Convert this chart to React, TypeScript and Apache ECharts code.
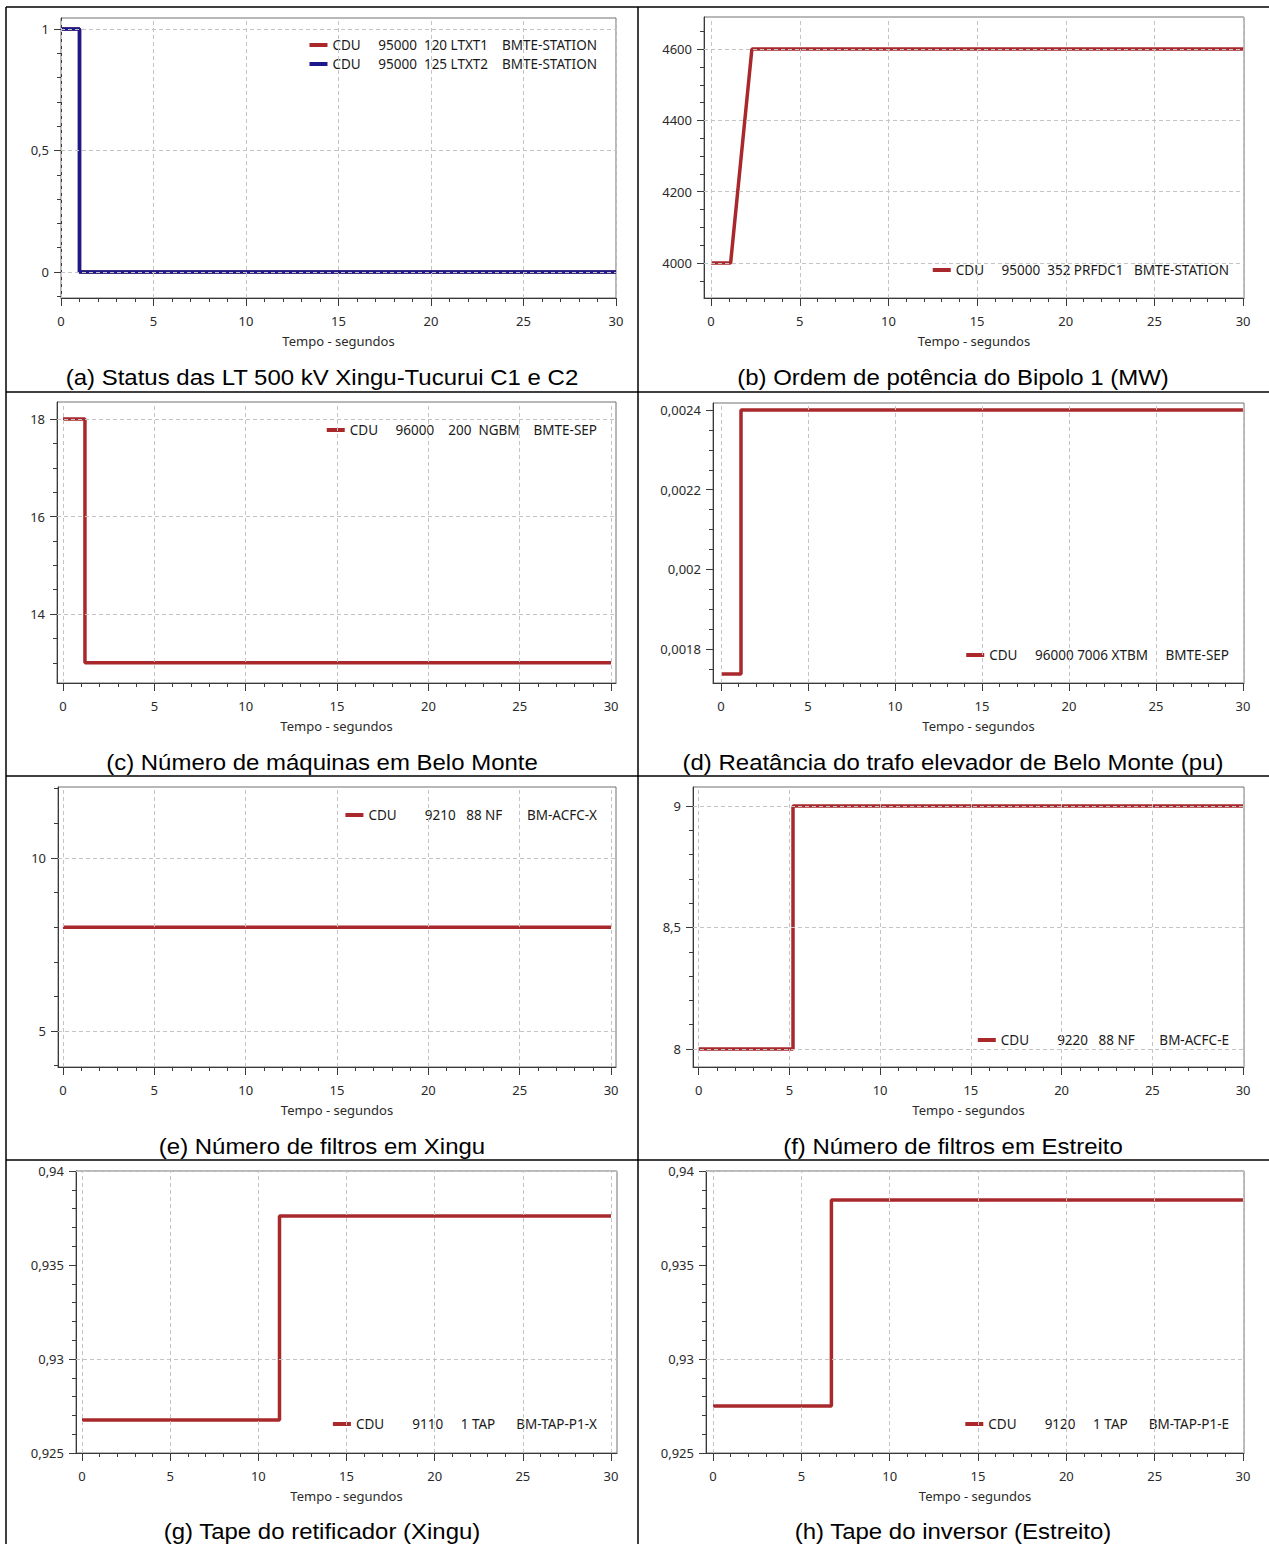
import React, { useEffect, useRef } from 'react';
import * as echarts from 'echarts';

const PAGE_W = 1269;
const PAGE_H = 1544;
const FONT = 'Noto Sans';
const RED = '#a8282c';
const BLUE = '#1a1a8c';

// ---------- shared time axis ticks ----------
const xMajorTicks = [0, 5, 10, 15, 20, 25, 30];
const xMinorStep = 1;

// ---------- (a) Status das LT ----------
const timeA = [0, 1.0, 1.0, 30];
const statusLT1 = [1, 1, 0, 0];
const statusLT2 = [1, 1, 0, 0];
const yTicksA = [0, 0.5, 1];

// ---------- (b) Ordem de potência ----------
const timeB = [0, 1.1, 2.3, 30];
const powerOrder = [4000, 4000, 4600, 4600];
const yTicksB = [4000, 4200, 4400, 4600];

// ---------- (c) Número de máquinas ----------
const timeC = [0, 1.2, 1.2, 30];
const machines = [18, 18, 13, 13];
const yTicksC = [14, 16, 18];

// ---------- (d) Reatância ----------
const timeD = [0, 1.15, 1.15, 30];
const reactance = [0.001737, 0.001737, 0.0024, 0.0024];
const yTicksD = [0.0018, 0.002, 0.0022, 0.0024];

// ---------- (e) Filtros Xingu ----------
const timeE = [0, 30];
const filtersXingu = [8, 8];
const yTicksE = [5, 10];

// ---------- (f) Filtros Estreito ----------
const timeF = [0, 5.2, 5.2, 30];
const filtersEstreito = [8, 8, 9, 9];
const yTicksF = [8, 8.5, 9];

// ---------- (g) Tape retificador ----------
const timeG = [0, 11.2, 11.2, 30];
const tapRect = [0.92676, 0.92676, 0.93761, 0.93761];
const yTicksG = [0.925, 0.93, 0.935, 0.94];

// ---------- (h) Tape inversor ----------
const timeH = [0, 6.7, 6.7, 30];
const tapInv = [0.9275, 0.9275, 0.93846, 0.93846];
const yTicksH = [0.925, 0.93, 0.935, 0.94];

const NAME_A1 = 'CDU     95000  120 LTXT1    BMTE-STATION';
const NAME_A2 = 'CDU     95000  125 LTXT2    BMTE-STATION';
const NAME_B = 'CDU     95000  352 PRFDC1   BMTE-STATION';
const NAME_C = 'CDU     96000    200  NGBM    BMTE-SEP';
const NAME_D = 'CDU     96000 7006 XTBM     BMTE-SEP';
const NAME_E = 'CDU        9210   88 NF       BM-ACFC-X';
const NAME_F = 'CDU        9220   88 NF       BM-ACFC-E';
const NAME_G = 'CDU        9110     1 TAP      BM-TAP-P1-X';
const NAME_H = 'CDU        9120     1 TAP      BM-TAP-P1-E';

const captions = [
  '(a) Status das LT 500 kV Xingu-Tucurui C1 e C2',
  '(b) Ordem de potência do Bipolo 1 (MW)',
  '(c) Número de máquinas em Belo Monte',
  '(d) Reatância do trafo elevador de Belo Monte (pu)',
  '(e) Número de filtros em Xingu',
  '(f) Número de filtros em Estreito',
  '(g) Tape do retificador (Xingu)',
  '(h) Tape do inversor (Estreito)',
];

type Line = { name: string; t: number[]; v: number[]; color: string };
type Panel = {
  grid: { left: number; top: number; width: number; height: number };
  xRange: [number, number];
  yRange: [number, number];
  yMajor: number[];
  yMinor: number;
  legendTop: number;
  lines: Line[];
};

const panels: Panel[] = [
  {
    grid: { left: 61, top: 18, width: 555, height: 280 },
    xRange: [0, 30], yRange: [-0.107, 1.045], yMajor: yTicksA, yMinor: 0.1, legendTop: 37,
    lines: [
      { name: NAME_A1, t: timeA, v: statusLT1, color: RED },
      { name: NAME_A2, t: timeA, v: statusLT2, color: BLUE },
    ],
  },
  {
    grid: { left: 704, top: 17, width: 540, height: 281 },
    xRange: [-0.4, 30.05], yRange: [3902, 4690], yMajor: yTicksB, yMinor: 50, legendTop: 262,
    lines: [{ name: NAME_B, t: timeB, v: powerOrder, color: RED }],
  },
  {
    grid: { left: 57, top: 402, width: 559, height: 281 },
    xRange: [-0.33, 30.27], yRange: [12.585, 18.35], yMajor: yTicksC, yMinor: 0.5, legendTop: 422,
    lines: [{ name: NAME_C, t: timeC, v: machines, color: RED }],
  },
  {
    grid: { left: 713, top: 403, width: 531, height: 280 },
    xRange: [-0.46, 30.06], yRange: [0.0017146, 0.0024176], yMajor: yTicksD, yMinor: 0.00005, legendTop: 647,
    lines: [{ name: NAME_D, t: timeD, v: reactance, color: RED }],
  },
  {
    grid: { left: 58, top: 787, width: 558, height: 280 },
    xRange: [-0.27, 30.27], yRange: [3.96, 12.05], yMajor: yTicksE, yMinor: 1, legendTop: 807,
    lines: [{ name: NAME_E, t: timeE, v: filtersXingu, color: RED }],
  },
  {
    grid: { left: 693, top: 787, width: 551, height: 280 },
    xRange: [-0.31, 30.05], yRange: [7.926, 9.078], yMajor: yTicksF, yMinor: 0.1, legendTop: 1032,
    lines: [{ name: NAME_F, t: timeF, v: filtersEstreito, color: RED }],
  },
  {
    grid: { left: 76, top: 1171, width: 541, height: 282 },
    xRange: [-0.34, 30.34], yRange: [0.925, 0.94], yMajor: yTicksG, yMinor: 0.001, legendTop: 1416,
    lines: [{ name: NAME_G, t: timeG, v: tapRect, color: RED }],
  },
  {
    grid: { left: 706, top: 1171, width: 538, height: 282 },
    xRange: [-0.4, 30.06], yRange: [0.925, 0.94], yMajor: yTicksH, yMinor: 0.001, legendTop: 1416,
    lines: [{ name: NAME_H, t: timeH, v: tapInv, color: RED }],
  },
];

const colCaptionX = [322, 953];
const rowCaptionY = [377, 762, 1146, 1531];
const colLegendRight = [672, 40];
const tableHLines = [7, 392, 776, 1160];
const tableVLines = [6, 638];

function steps(min: number, max: number, step: number): number[] {
  const out: number[] = [];
  const k0 = Math.ceil(min / step - 1e-9);
  const k1 = Math.floor(max / step + 1e-9);
  for (let k = k0; k <= k1; k++) out.push(parseFloat((k * step).toPrecision(10)));
  return out;
}

function fmt(v: number): string {
  return String(parseFloat(Number(v).toPrecision(10))).replace('.', ',');
}

function buildOption() {
  const grid: any[] = [];
  const xAxis: any[] = [];
  const yAxis: any[] = [];
  const series: any[] = [];
  const legend: any[] = [];
  const axisColor = '#3a3a3a';
  const labelStyle = { color: '#2a2a2a', fontSize: 13, fontFamily: FONT };

  panels.forEach((p, i) => {
    const col = i % 2;
    grid.push({
      ...p.grid,
      show: true,
      borderColor: '#707070',
      borderWidth: 1,
      backgroundColor: 'transparent',
      containLabel: false,
      outerBoundsMode: 'none',
    });
    const common = { type: 'value', gridIndex: i, splitLine: { show: false }, silent: true };
    // main x axis (minor ticks + labels)
    xAxis.push({
      ...common,
      position: 'bottom',
      min: p.xRange[0],
      max: p.xRange[1],
      axisLine: { show: true, onZero: false, lineStyle: { color: axisColor, width: 1 } },
      axisTick: {
        show: true,
        customValues: steps(0, 30, xMinorStep),
        length: 4,
        lineStyle: { color: axisColor },
      },
      axisLabel: { show: true, customValues: xMajorTicks, margin: 16, formatter: fmt, ...labelStyle },
      name: 'Tempo - segundos',
      nameLocation: 'middle',
      nameGap: 36,
      nameTextStyle: { ...labelStyle },
    });
    // overlay x axis (major ticks)
    xAxis.push({
      ...common,
      position: 'bottom',
      min: p.xRange[0],
      max: p.xRange[1],
      axisLine: { show: false, onZero: false },
      axisTick: { show: true, customValues: xMajorTicks, length: 8, lineStyle: { color: axisColor } },
      axisLabel: { show: false },
    });
    // main y axis (minor ticks + labels)
    yAxis.push({
      ...common,
      position: 'left',
      min: p.yRange[0],
      max: p.yRange[1],
      axisLine: { show: true, onZero: false, lineStyle: { color: axisColor, width: 1 } },
      axisTick: {
        show: true,
        customValues: steps(p.yRange[0], p.yRange[1], p.yMinor),
        length: 4,
        lineStyle: { color: axisColor },
      },
      axisLabel: { show: true, customValues: p.yMajor, margin: 12, formatter: fmt, ...labelStyle },
    });
    // overlay y axis (major ticks)
    yAxis.push({
      ...common,
      position: 'left',
      min: p.yRange[0],
      max: p.yRange[1],
      axisLine: { show: false, onZero: false },
      axisTick: { show: true, customValues: p.yMajor, length: 7, lineStyle: { color: axisColor } },
      axisLabel: { show: false },
    });

    p.lines.forEach((ln, j) => {
      const s: any = {
        type: 'line',
        name: ln.name,
        xAxisIndex: 2 * i,
        yAxisIndex: 2 * i,
        data: ln.t.map((t, k) => [t, ln.v[k]]),
        symbol: 'none',
        showSymbol: false,
        silent: true,
        lineStyle: { color: ln.color, width: 3.5 },
        itemStyle: { color: ln.color },
        z: 2,
      };
      if (j === 0) {
        s.markLine = {
          silent: true,
          symbol: ['none', 'none'],
          label: { show: false },
          emphasis: { disabled: true },
          lineStyle: { color: '#c4c4c4', type: [4, 3], width: 1 },
          data: [
            ...xMajorTicks.map((v) => ({ xAxis: v })),
            ...p.yMajor.map((v) => ({ yAxis: v })),
          ],
        };
      }
      series.push(s);
    });

    legend.push({
      data: p.lines.map((l) => l.name),
      orient: 'vertical',
      right: colLegendRight[col],
      top: p.legendTop,
      padding: 0,
      itemGap: 3,
      itemWidth: 18,
      itemHeight: 4,
      icon: 'rect',
      selectedMode: false,
      textStyle: { fontSize: 13.5, color: '#1a1a1a', fontFamily: FONT, lineHeight: 16 },
    });
  });

  const graphic: any[] = [];
  tableHLines.forEach((y) =>
    graphic.push({
      type: 'line',
      silent: true,
      shape: { x1: 6, y1: y, x2: PAGE_W, y2: y },
      style: { stroke: '#000', lineWidth: 1.5 },
    })
  );
  tableVLines.forEach((x) =>
    graphic.push({
      type: 'line',
      silent: true,
      shape: { x1: x, y1: 7, x2: x, y2: PAGE_H },
      style: { stroke: '#000', lineWidth: 1.5 },
    })
  );
  captions.forEach((text, i) => {
    const col = i % 2;
    const row = Math.floor(i / 2);
    graphic.push({
      type: 'text',
      silent: true,
      x: colCaptionX[col],
      y: rowCaptionY[row],
      scaleX: 1.09,
      style: {
        text,
        fontSize: 22,
        fontFamily: 'Liberation Sans',
        fill: '#000',
        align: 'center',
        verticalAlign: 'middle',
        textAlign: 'center',
        textVerticalAlign: 'middle',
      },
    });
  });

  return {
    animation: false,
    backgroundColor: '#ffffff',
    textStyle: { fontFamily: FONT },
    grid,
    xAxis,
    yAxis,
    series,
    legend,
    graphic,
  };
}

export default function App() {
  const ref = useRef<HTMLDivElement>(null);
  useEffect(() => {
    if (!ref.current) return;
    const chart = echarts.init(ref.current, null, { renderer: 'svg', width: PAGE_W, height: PAGE_H });
    chart.setOption(buildOption() as any);
    return () => chart.dispose();
  }, []);
  return (
    <div
      ref={ref}
      style={{ position: 'absolute', left: 0, top: 0, width: PAGE_W, height: PAGE_H, background: '#fff' }}
    />
  );
}
